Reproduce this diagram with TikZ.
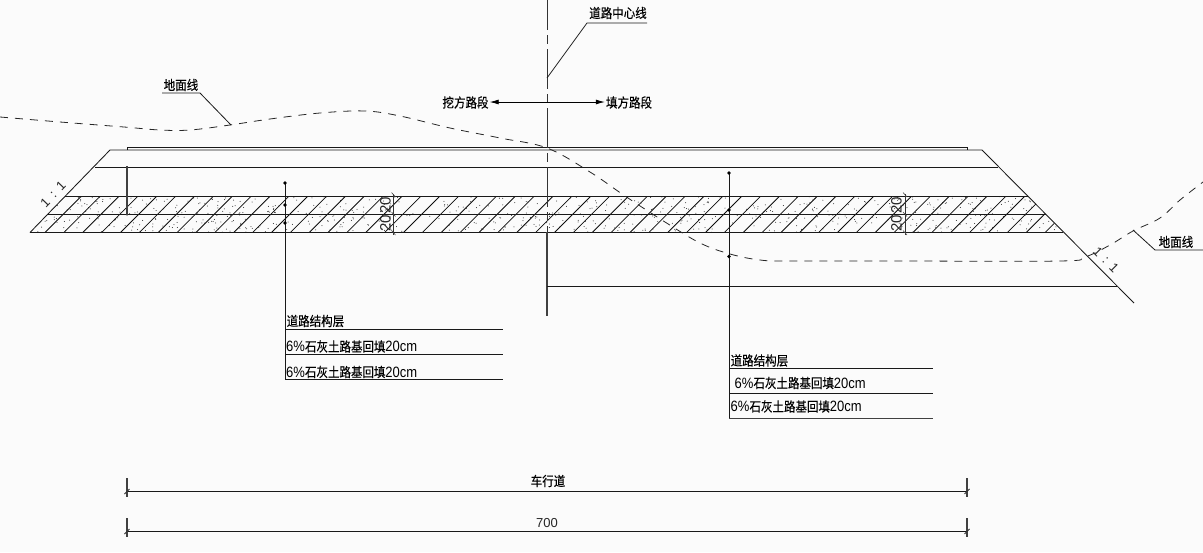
\documentclass[tikz,border=0pt]{standalone}
\usepackage{fontspec}
\newfontfamily\cjk[FakeBold=0.25]{Noto Sans CJK SC}
\newfontfamily\latn{Liberation Sans}
\newcommand{\lat}[1]{{\latn\fontsize{13}{13}\selectfont #1}}
\usetikzlibrary{arrows.meta,calc}
\tikzset{
  ln/.style={line width=0.85pt,draw=black!90},
  thick ln/.style={line width=1.1pt,draw=black!75},
  ground/.style={line width=0.8pt,draw=black!85,dash pattern=on 8pt off 7pt},
  lbl/.style={inner sep=0pt,font=\cjk\fontsize{11.5}{12}\selectfont,text=black},
  tall/.style={yscale=1.15,transform shape},
  num/.style={inner sep=0pt,font=\latn\fontsize{13}{13}\selectfont,text=black!85},
  dimnum/.style={inner sep=0pt,font=\latn\fontsize{15}{15}\selectfont,text=black!85},
  dotm/.style={circle,fill=black,inner sep=0pt,minimum size=3.6pt},
  tick/.style={line width=1.6pt,draw=black!75}
}
\begin{document}
\begin{tikzpicture}[x=1pt,y=-1pt]
\useasboundingbox (0,0) rectangle (1203,552);
\fill[black!1.5] (0,0) rectangle (1203,552);
% key coordinates
\coordinate (SL0) at (110,150);
\coordinate (SLb) at (30,232.5);
\coordinate (SR0) at (982,150);
\coordinate (SRb) at (1134,303);
\coordinate (B1) at (65,196);
\coordinate (B2) at (47.5,214.5);
\coordinate (B3) at (30,232.5);
\coordinate (B1r) at (1028,196);
\coordinate (B2r) at (1045.5,214.5);
\coordinate (B3r) at (1063,232.5);
% band fill: stipple and hatch
\begin{scope}
\clip (B1) -- (B1r) -- (B3r) -- (B3) -- cycle;
\pgfmathsetseed{4242}
\foreach \i in {1,...,700}{
  \pgfmathsetmacro{\px}{30+rnd*1033}
  \pgfmathsetmacro{\py}{196+rnd*36.5}
  \fill[black!85] (\px,\py) circle (0.5pt);
}
\foreach \k in {0,...,54}{
  \draw[line width=0.8pt,black!95] ({45+18.87*\k},232.5) -- ({45+18.87*\k+37},195.5);
}
\end{scope}
% road outline
\draw[ln] (SLb) -- (SL0) -- (SR0) -- (SRb);
\draw[ln] (127,150) -- (127,147) -- (967,147) -- (967,150);
\draw[ln] (95,167.5) -- (998,167.5);
\draw[ln] (B1) -- (B1r);
\draw[ln] (B2) -- (B2r);
\draw[ln] (B3) -- (B3r);
\draw[thick ln] (127,166) -- (127,214.5);
% centre line
\coordinate (C0) at (547,0);
\coordinate (C1) at (547,316);
\draw[line width=0.95pt,draw=black!80,dash pattern=on 40pt off 5pt on 9pt off 5pt,dash phase=10pt] (C0) -- (547,232);
\draw[thick ln] (547,232) -- (C1);
\draw[ln] (547,286.5) -- (1117,286.5);
% centre line label
\coordinate (CL1) at (547,78);
\coordinate (CL2) at (587,23);
\coordinate (CL3) at (647,23);
\draw[line width=0.75pt,black!90] (CL1) -- (CL2) -- (CL3);
\node[lbl,tall] (tc) at (618,13) {道路中心线};
% cut / fill arrow
\node[lbl,tall] (tw) at (465.5,102.5) {挖方路段};
\node[lbl,tall] (tt) at (629,102.5) {填方路段};
\draw[line width=0.8pt,black,{Latex[length=9pt,width=5pt]}-{Latex[length=9pt,width=5pt]}] ($(tw.east)+(1,-0.5)$) -- ($(tt.west)+(-1,-0.5)$);
% ground line
\draw[ground] plot[smooth,tension=0.6] coordinates {(0,117) (60,122) (124,127) (160,130) (190,130) (230,125) (270,119) (320,113) (365,111) (400,116) (450,128) (500,138) (547,148) (590,172) (625,196) (665,222) (700,243) (730,254) (760,260) (790,261) (900,261) (1060,261) (1085,257) (1110,245) (1133,231) (1160,218) (1180,200) (1203,182)};
% ground labels
\coordinate (GL1) at (162,93);
\coordinate (GL2) at (200,93);
\coordinate (GL3) at (231,125);
\draw[line width=0.8pt,black!90] (GL1) -- (GL2) -- (GL3);
\node[lbl,tall] (tg1) at (181,85) {地面线};
\coordinate (GR1) at (1133,230);
\coordinate (GR2) at (1155,250);
\coordinate (GR3) at (1203,250);
\draw[line width=0.8pt,black!90] (GR1) -- (GR2) -- (GR3);
\node[lbl,tall] (tg2) at (1176,242) {地面线};
% slope ratios
\node[num,rotate=46] (sl) at (53,194.5) {1\hspace{6pt}:\hspace{6pt}1};
\node[num,rotate=-45] (sr) at (1106,260) {1\hspace{6pt}:\hspace{6pt}1};
% thickness dimensions
\foreach \x/\nm in {393.5/a,905/b}{
  \coordinate (D\nm1) at (\x,194);
  \coordinate (D\nm2) at (\x,235);
  \draw[line width=0.9pt,black!80] (D\nm1) -- (D\nm2);
  \draw[line width=0.6pt,black!70] (\x-2,192.5) -- (\x+2,197);
  \draw[line width=0.6pt,black!70] (\x-2,212) -- (\x+2,216.5);
  \draw[line width=0.6pt,black!70] (\x-2,230.5) -- (\x+2,235);
}
\node[dimnum,rotate=90] (d1) at (385.5,205) {20};
\node[dimnum,rotate=90] (d2) at (385.5,223.5) {20};
\node[dimnum,rotate=90] (d3) at (896.5,205) {20};
\node[dimnum,rotate=90] (d4) at (896.5,223.5) {20};
% left leader
\coordinate (LA) at (285,183);
\coordinate (LB) at (285,379.5);
\draw[ln] (LA) -- (LB);
\node[dotm] at (LA) {};
\node[dotm] at (285,205) {};
\node[dotm] at (285,223) {};
\draw[ln] (285,329) -- (503,329);
\draw[ln] (285,354.5) -- (503,354.5);
\draw[ln] (LB) -- (503,379.5);
\node[lbl,tall,anchor=west] (l1) at (286.5,321) {道路结构层};
\node[lbl,tall,anchor=west] (l2) at (286,346.5) {\lat{6\%}石灰土路基回填\lat{20cm}};
\node[lbl,tall,anchor=west] (l3) at (286,372) {\lat{6\%}石灰土路基回填\lat{20cm}};
% right leader
\coordinate (RA) at (729,173);
\coordinate (RB) at (729,418.5);
\draw[ln] (RA) -- (RB);
\node[dotm] at (RA) {};
\node[dotm] at (729,210) {};
\node[dotm] at (729,256.5) {};
\draw[ln] (729,368) -- (933,368);
\draw[ln] (729,393.5) -- (933,393.5);
\draw[thick ln] (RB) -- (933,418.5);
\node[lbl,tall,anchor=west] (r1) at (730.5,360.5) {道路结构层};
\node[lbl,tall,anchor=west] (r2) at (734.5,383) {\lat{6\%}石灰土路基回填\lat{20cm}};
\node[lbl,tall,anchor=west] (r3) at (730.5,406.5) {\lat{6\%}石灰土路基回填\lat{20cm}};
% width dimensions
\foreach \y/\nm in {491/u,531/v}{
  \coordinate (W\nm1) at (127,\y);
  \coordinate (W\nm2) at (967,\y);
  \draw[ln] (W\nm1) -- (W\nm2);
  \draw[tick] (127,\y-13) -- (127,\y+6);
  \draw[tick] (967,\y-13) -- (967,\y+6);
  \draw[line width=0.8pt,black!80] (124.5,\y+3) -- (129.5,\y-2);
  \draw[line width=0.8pt,black!80] (964.5,\y+3) -- (969.5,\y-2);
}
\node[lbl,tall] (t1) at (548,481) {车行道};
\node[num] (t2) at (547,523.5) {700};
\end{tikzpicture}
\end{document}
